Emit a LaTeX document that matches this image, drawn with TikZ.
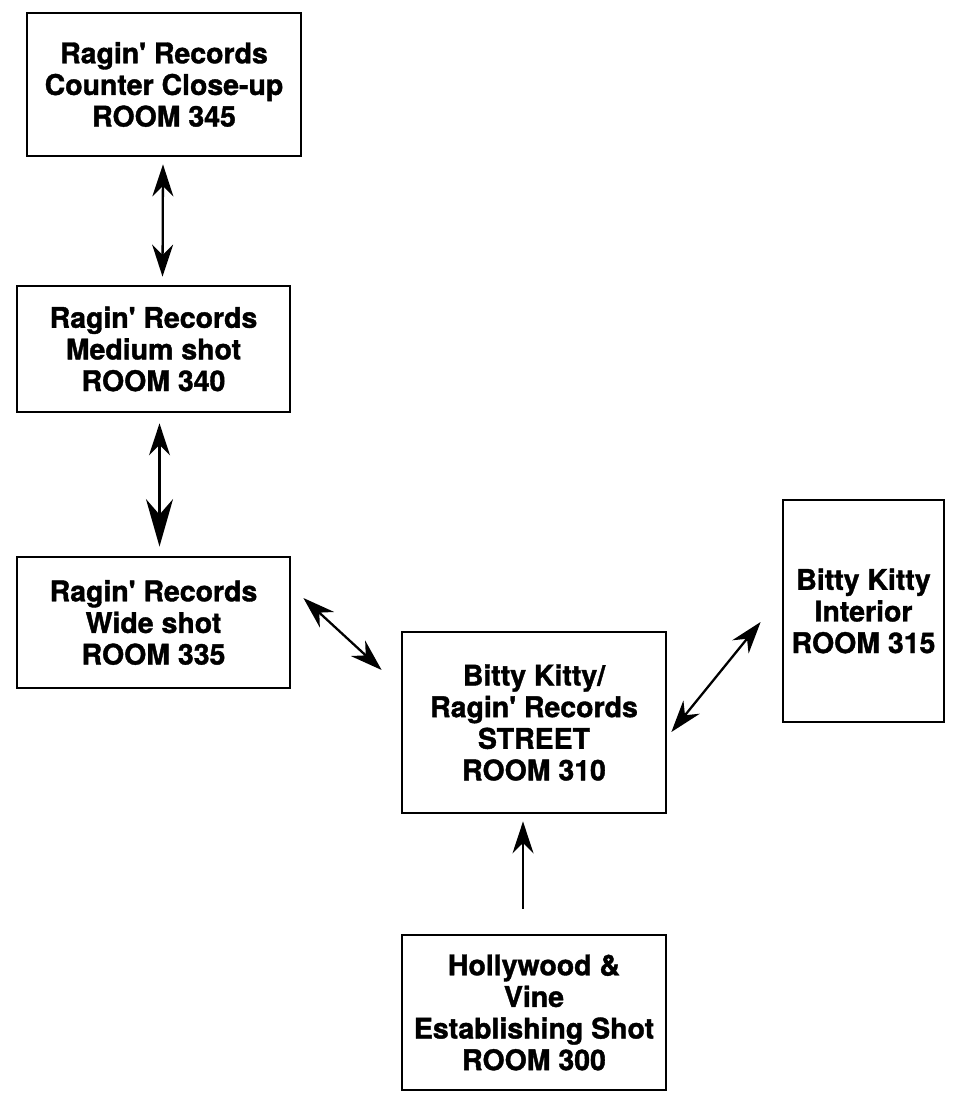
\documentclass[tikz,border=0pt]{standalone}
\usepackage{fontspec}
\setmainfont{TeX Gyre Heros}
\newfontfamily\roomfont{TeX Gyre Heros Bold}[FakeBold=1.3]
\usepackage{tikz}
\usetikzlibrary{arrows.meta}

\begin{document}
\begin{tikzpicture}[x=0.02cm, y=-0.02cm,
		room/.style={draw, line width=1.6pt, align=center, inner sep=0pt,
			font=\roomfont\fontsize{16.2}{18}\selectfont},
		dbl/.style={line width=1.3pt, {Stealth[length=0.64cm, width=0.42cm]}-{Stealth[length=0.64cm, width=0.42cm]}},
		one/.style={line width=1.3pt, -{Stealth[length=0.64cm, width=0.42cm]}}]
			% Marco
			\useasboundingbox (0,0) rectangle (975,1101);
			
			% Cuartos
			\node[room, minimum width=5.48cm, minimum height=2.86cm] (n345) at (164,84.5) {Ragin' Records\\Counter Close-up\\ROOM 345};
			\node[room, minimum width=5.46cm, minimum height=2.52cm] (n340) at (153.5,349) {Ragin' Records\\Medium shot\\ROOM 340};
			\node[room, minimum width=5.46cm, minimum height=2.62cm] (n335) at (153.5,622.5) {Ragin' Records\\Wide shot\\ROOM 335};
			\node[room, minimum width=5.28cm, minimum height=3.62cm] (n310) at (534,722.5) {Bitty Kitty/\\Ragin' Records\\STREET\\ROOM 310};
			\node[room, minimum width=3.22cm, minimum height=4.44cm] (n315) at (863.5,611) {Bitty Kitty\\Interior\\ROOM 315};
			\node[room, minimum width=5.28cm, minimum height=3.10cm] (n300) at (534,1012.5) {Hollywood \&\\Vine\\Establishing Shot\\ROOM 300};
			
			% Conexiones
			\draw[dbl] ([shift={(-1,7)}]n345.south) -- ([shift={(9,-8)}]n340.north);
			\draw[dbl, {Stealth[length=0.64cm, width=0.42cm]}-{Stealth[length=0.95cm, width=0.54cm]}] ([shift={(6,10)}]n340.south) -- ([shift={(6,-9)}]n335.north);
			\draw[dbl] ([shift={(12,-24.5)}]n335.east) -- ([shift={(-19,-52.5)}]n310.west);
			\draw[dbl] ([shift={(4,9.5)}]n310.east) -- ([shift={(-21,11)}]n315.west);
			\draw[one] ([shift={(-11,-25)}]n300.north) -- ([shift={(-11,7)}]n310.south);
		\end{tikzpicture}
\end{document}
